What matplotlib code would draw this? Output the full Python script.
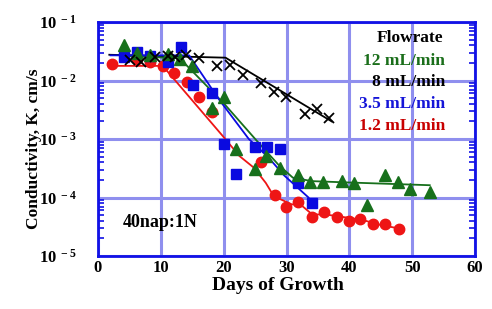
import matplotlib
matplotlib.use("Agg")
import matplotlib.pyplot as plt
from matplotlib.ticker import LogLocator, NullFormatter, FixedLocator
import numpy as np

plt.rcParams['font.family'] = ['Liberation Serif', 'DejaVu Serif']
plt.rcParams['font.weight'] = 'bold'
plt.rcParams['mathtext.fontset'] = 'custom'
plt.rcParams['mathtext.rm'] = 'Liberation Serif:bold'
plt.rcParams['mathtext.it'] = 'Liberation Serif:bold'
plt.rcParams['mathtext.bf'] = 'Liberation Serif:bold'

# ---- data (log10 of K) ----
green_days = [4.2, 6.2, 8.3, 11.1, 13.1, 15.0, 18.1, 20.0, 21.9, 25.0, 26.8, 29.0,
              31.9, 33.8, 35.8, 38.8, 40.8, 42.8, 45.7, 47.8, 49.7, 52.8]
green_logk = [-1.39, -1.53, -1.57, -1.55, -1.64, -1.75, -2.47, -2.28, -3.17, -3.52, -3.29, -3.49,
              -3.62, -3.74, -3.74, -3.72, -3.75, -4.13, -3.62, -3.74, -3.85, -3.90]

black_days = [5.1, 6.9, 9.0, 11.1, 12.2, 14.0, 16.1, 19.0, 21.0, 23.0, 25.9, 28.0,
              29.9, 33.0, 34.9, 36.7]
black_logk = [-1.65, -1.68, -1.60, -1.58, -1.59, -1.56, -1.62, -1.75, -1.73, -1.90, -2.04, -2.19,
              -2.29, -2.58, -2.48, -2.64]

blue_days = [4.2, 6.2, 8.3, 11.1, 13.2, 15.1, 18.2, 20.1, 21.9, 25.0, 26.9, 29.0, 31.8, 34.0]
blue_logk = [-1.60, -1.52, -1.58, -1.68, -1.42, -2.07, -2.21, -3.08, -3.59, -3.14, -3.14, -3.17,
             -3.75, -4.10]

red_days = [2.2, 6.2, 8.3, 10.3, 12.1, 14.1, 16.1, 18.2, 25.9, 28.2, 29.9, 31.9, 34.0, 35.9,
            38.0, 39.9, 41.7, 43.8, 45.7, 47.9]
red_logk = [-1.72, -1.63, -1.68, -1.76, -1.87, -2.02, -2.29, -2.53, -3.40, -3.96, -4.16, -4.07,
            -4.33, -4.25, -4.33, -4.40, -4.36, -4.45, -4.46, -4.53]

# fitted trend lines (knots)
green_fit_days = [4.2, 13.0, 20.1, 25.1, 28.8, 31.0, 34.0, 39.0, 52.8]
green_fit_logk = [-1.58, -1.62, -2.40, -3.01, -3.45, -3.66, -3.72, -3.74, -3.79]
black_fit_days = [1.8, 20.3, 37.2]
black_fit_logk = [-1.56, -1.61, -2.70]
blue_fit_days = [2.0, 14.5, 19.3, 24.0, 27.0, 29.6, 33.5]
blue_fit_logk = [-1.57, -1.57, -2.33, -3.00, -3.30, -3.62, -4.00]
red_fit_days = [2.2, 10.3, 20.1, 22.5, 24.8, 26.7, 28.0, 30.9, 32.0, 34.1, 36.2, 42.0, 44.6, 47.9]
red_fit_logk = [-1.75, -1.75, -2.98, -3.29, -3.49, -3.75, -3.98, -4.12, -4.10, -4.29, -4.29, -4.38,
                -4.46, -4.53]

legend_title = "Flowrate"
legend_labels = ["12 mL/min", "8 mL/min", "3.5 mL/min", "1.2 mL/min"]
x_ticks = [0, 10, 20, 30, 40, 50, 60]
y_exps = [-1, -2, -3, -4, -5]

GREEN = '#17701c'
BLUE = '#0a0ae0'
RED = '#ee1515'
BLACK = '#000000'
AXBLUE = '#1212e6'
GRID = '#8f8fee'

def K(v):
    return [10.0 ** a for a in v]

fig = plt.figure(figsize=(4.92, 3.09), dpi=100)
ax = fig.add_axes([98/492, 1 - 256/309, (475 - 98)/492, (256 - 22)/309])
ax.set_yscale('log')
ax.set_xlim(0, 60)
ax.set_ylim(1e-5, 1e-1)

ax.grid(True, which='major', color=GRID, linewidth=2.2, zorder=0)
ax.set_axisbelow(True)

# fit lines
ax.plot(black_fit_days, K(black_fit_logk), color=BLACK, lw=1.3, zorder=2)
ax.plot(green_fit_days, K(green_fit_logk), color=GREEN, lw=1.3, zorder=2)
ax.plot(blue_fit_days, K(blue_fit_logk), color=BLUE, lw=1.3, zorder=2)
ax.plot(red_fit_days, K(red_fit_logk), color=RED, lw=1.3, zorder=2)

# markers
ax.plot(red_days, K(red_logk), 'o', color=RED, ms=7.5, mec=RED, zorder=3)
ax.plot(blue_days, K(blue_logk), 's', color=BLUE, ms=7.5, mec=BLUE, zorder=4)
ax.plot(green_days, K(green_logk), '^', color=GREEN, ms=8, mec=GREEN, zorder=5)
ax.plot(black_days, K(black_logk), 'x', color=BLACK, ms=7.5, mew=1.3, zorder=6)

for s in ax.spines.values():
    s.set_color(AXBLUE)
    s.set_linewidth(2)

ax.xaxis.set_major_locator(FixedLocator(x_ticks))
ax.set_xticklabels([str(t) for t in x_ticks], fontsize=12, fontweight='bold')
ax.tick_params(axis='x', which='both', length=0, pad=3)

ax.yaxis.set_major_locator(FixedLocator([10.0 ** e for e in y_exps]))
ax.set_yticklabels([r'$10^{\ %d}$' % e for e in y_exps], fontsize=12)
ax.yaxis.set_minor_locator(LogLocator(base=10, subs=np.arange(2, 10), numticks=20))
ax.yaxis.set_minor_formatter(NullFormatter())
ax.tick_params(axis='y', which='major', length=0, pad=15)
ax.tick_params(axis='y', which='minor', direction='in', length=4, width=1.2,
               color=AXBLUE, left=True, right=True)

ax.set_xlabel('Days of Growth', fontsize=14, fontweight='bold')
ax.xaxis.set_label_coords(0.476, -0.09)
ax.set_ylabel('Conductivity, K, cm/s', fontsize=12.5, fontweight='bold')
ax.yaxis.set_label_coords(-0.149, 0.46)

# legend as text
ax.text(0.915, 0.93, legend_title, transform=ax.transAxes, ha='right', va='center',
        fontsize=12.5, fontweight='bold', color=BLACK)
leg_colors = ['#1a6e1a', BLACK, '#1515d8', '#c80000']
leg_y = [0.832, 0.742, 0.648, 0.555]
for lab, col, yy in zip(legend_labels, leg_colors, leg_y):
    ax.text(0.92, yy, lab, transform=ax.transAxes, ha='right', va='center',
            fontsize=12.5, fontweight='bold', color=col)

ax.text(0.066, 0.145, '40nap:1N', transform=ax.transAxes, ha='left', va='center',
        fontsize=13, fontweight='bold', color=BLACK)

fig.savefig('out.png', dpi=100)
